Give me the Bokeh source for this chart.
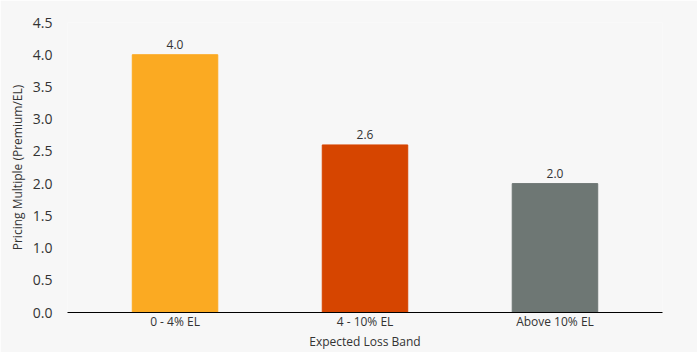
from bokeh.plotting import figure
from bokeh.models import ColumnDataSource, FactorRange, Range1d, SingleIntervalTicker, CustomJSTickFormatter
from bokeh.embed import file_html
from bokeh.resources import INLINE
from bokeh.core.properties import value

categories = ["0 - 4% EL", "4 - 10% EL", "Above 10% EL"]
multiples = [4.0, 2.6, 2.0]
colors = ["#FBAA22", "#D64500", "#6E7774"]
labels = ["4.0", "2.6", "2.0"]

src = ColumnDataSource(dict(cat=categories, val=multiples, color=colors, lab=labels))

FONT = "Open Sans"
BG = "#F7F7F7"
TXT = "#333333"

p = figure(width=697, height=352, x_range=FactorRange(*categories, range_padding=0.044),
           y_range=Range1d(0, 4.5), output_backend="svg", toolbar_location=None,
           background_fill_color=BG, border_fill_color=BG,
           min_border_left=67, min_border_right=35, min_border_top=22, min_border_bottom=0)
p.outline_line_color = None
p.grid.grid_line_color = None

p.vbar(x="cat", top="val", width=0.45, color="color", source=src)
p.text(x="cat", y="val", text="lab", source=src, text_align="center", text_baseline="bottom",
       y_offset=-6, text_font=value(FONT), text_font_size="12px", text_color=TXT)

p.yaxis.ticker = SingleIntervalTicker(interval=0.5)
p.yaxis.formatter = CustomJSTickFormatter(code="return tick.toFixed(1);")
p.yaxis.axis_line_color = None
p.yaxis.major_tick_line_color = None
p.yaxis.minor_tick_line_color = None
p.yaxis.major_label_standoff = 9
p.yaxis.major_label_text_font = FONT
p.yaxis.major_label_text_font_size = "14px"
p.yaxis.major_label_text_color = TXT
p.yaxis.axis_label = "Pricing Multiple (Premium/EL)"
p.yaxis.axis_label_text_font = FONT
p.yaxis.axis_label_text_font_size = "12px"
p.yaxis.axis_label_text_font_style = "normal"
p.yaxis.axis_label_text_color = TXT
p.yaxis.axis_label_standoff = 4

p.xaxis.axis_line_color = "#000000"
p.xaxis.axis_line_width = 1
p.xaxis.major_tick_line_color = None
p.xaxis.minor_tick_line_color = None
p.xaxis.major_tick_out = 0
p.xaxis.major_tick_in = 0
p.xaxis.major_label_standoff = 0
p.xaxis.major_label_text_font = FONT
p.xaxis.major_label_text_font_size = "12px"
p.xaxis.major_label_text_color = TXT
p.xaxis.axis_label = "Expected Loss Band"
p.xaxis.axis_label_text_font = FONT
p.xaxis.axis_label_text_font_size = "12px"
p.xaxis.axis_label_text_font_style = "normal"
p.xaxis.axis_label_text_color = TXT
p.xaxis.axis_label_standoff = 0

open("out.html", "w").write(file_html(p, INLINE))
